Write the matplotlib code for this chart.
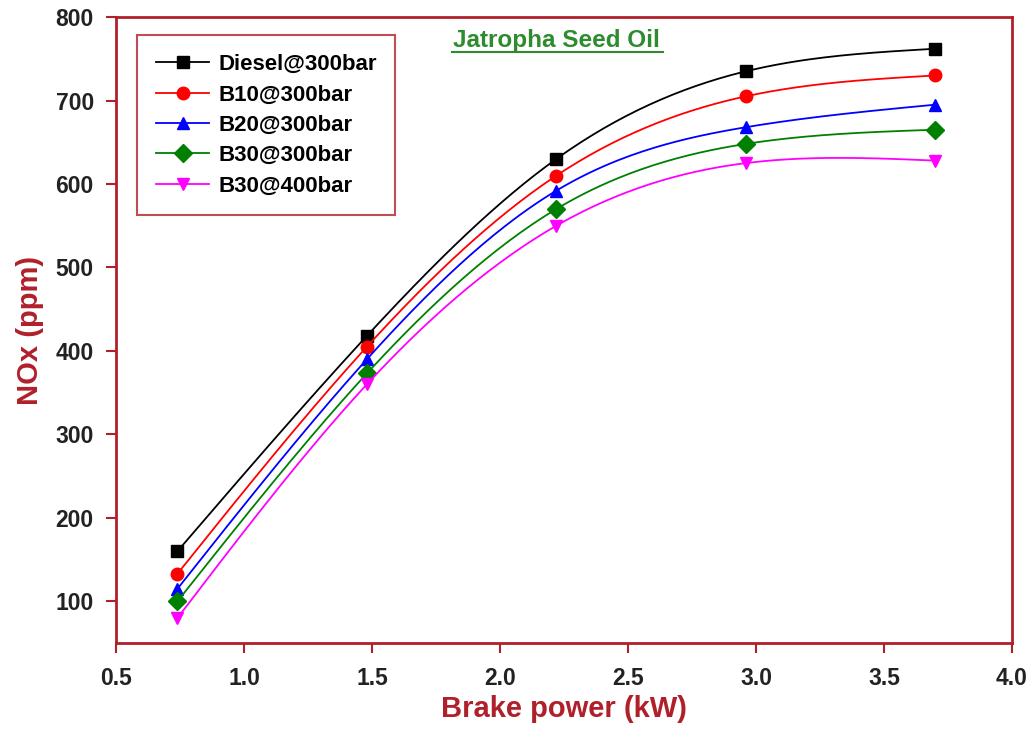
import numpy as np
import matplotlib.pyplot as plt

# data
power = [0.74, 1.48, 2.22, 2.96, 3.70]
diesel_300 = [160, 418, 630, 735, 762]
b10_300 = [133, 405, 610, 705, 730]
b20_300 = [115, 390, 592, 668, 695]
b30_300 = [100, 373, 570, 648, 665]
b30_400 = [80, 360, 550, 625, 628]

labels = ['Diesel@300bar', 'B10@300bar', 'B20@300bar', 'B30@300bar', 'B30@400bar']
colors = ['black', 'red', 'blue', 'green', 'magenta']
markers = ['s', 'o', '^', 'D', 'v']

RED = '#b0202a'
GREEN = '#2e8b2e'


def natural_spline(x, y, num=200):
    # natural cubic spline through the given points, just for drawing the curve
    x = np.asarray(x, float)
    y = np.asarray(y, float)
    n = len(x)
    h = np.diff(x)
    A = np.zeros((n, n))
    b = np.zeros(n)
    A[0, 0] = A[-1, -1] = 1
    for i in range(1, n - 1):
        A[i, i - 1] = h[i - 1]
        A[i, i] = 2 * (h[i - 1] + h[i])
        A[i, i + 1] = h[i]
        b[i] = 3 * ((y[i + 1] - y[i]) / h[i] - (y[i] - y[i - 1]) / h[i - 1])
    c = np.linalg.solve(A, b)
    xs = np.linspace(x[0], x[-1], num)
    ys = np.empty_like(xs)
    for k, xv in enumerate(xs):
        i = min(np.searchsorted(x, xv, side='right') - 1, n - 2)
        dx = xv - x[i]
        bi = (y[i + 1] - y[i]) / h[i] - h[i] * (2 * c[i] + c[i + 1]) / 3
        di = (c[i + 1] - c[i]) / (3 * h[i])
        ys[k] = y[i] + bi * dx + c[i] * dx ** 2 + di * dx ** 3
    return xs, ys


plt.rcParams['font.family'] = ['Liberation Sans', 'DejaVu Sans']

fig = plt.figure(figsize=(10.35, 7.38), dpi=100)
ax = fig.add_axes([0.1121, 0.1287, 0.8657, 0.8482])

series = [diesel_300, b10_300, b20_300, b30_300, b30_400]
for vals, lab, col, mk in zip(series, labels, colors, markers):
    xs, ys = natural_spline(power, vals)
    ax.plot(xs, ys, color=col, linewidth=1.3)
    ax.plot(power, vals, linestyle='none', marker=mk, color=col, markersize=9)
    # proxy for the legend
    ax.plot([], [], color=col, marker=mk, markersize=9, linewidth=1.3, label=lab)

ax.set_xlim(0.5, 4.0)
ax.set_ylim(50, 800)
ax.set_xticks(np.arange(0.5, 4.01, 0.5))
ax.set_yticks(np.arange(100, 801, 100))
ax.set_xticklabels(['%.1f' % v for v in np.arange(0.5, 4.01, 0.5)])

for sp in ax.spines.values():
    sp.set_color(RED)
    sp.set_linewidth(2)
ax.tick_params(direction='out', length=7, width=1.5, color=RED,
               labelsize=16.5, labelcolor='#222222')
ax.tick_params(axis='x', pad=10)
ax.tick_params(axis='y', pad=9)
for t in ax.get_xticklabels() + ax.get_yticklabels():
    t.set_fontweight('bold')

ax.set_xlabel('Brake power (kW)', fontsize=21, fontweight='bold', color=RED, labelpad=4)
ax.set_ylabel('NOx (ppm)', fontsize=21, fontweight='bold', color=RED, labelpad=8)

ax.text(0.492, 0.952, 'Jatropha Seed Oil', transform=ax.transAxes, ha='center', va='baseline',
        fontsize=17.5, fontweight='bold', color=GREEN)
ax.plot([0.375, 0.610], [0.944, 0.944], transform=ax.transAxes, color=GREEN, linewidth=1.5)

leg = ax.legend(loc='upper left', bbox_to_anchor=(0.0234, 0.971), fontsize=16, frameon=True,
                fancybox=False, edgecolor=RED, handlelength=2.4, handletextpad=0.4,
                borderpad=0.85, labelspacing=0.42, borderaxespad=0)
leg.get_frame().set_linewidth(1.5)
for t in leg.get_texts():
    t.set_fontweight('bold')

fig.savefig('out.png', dpi=100)
